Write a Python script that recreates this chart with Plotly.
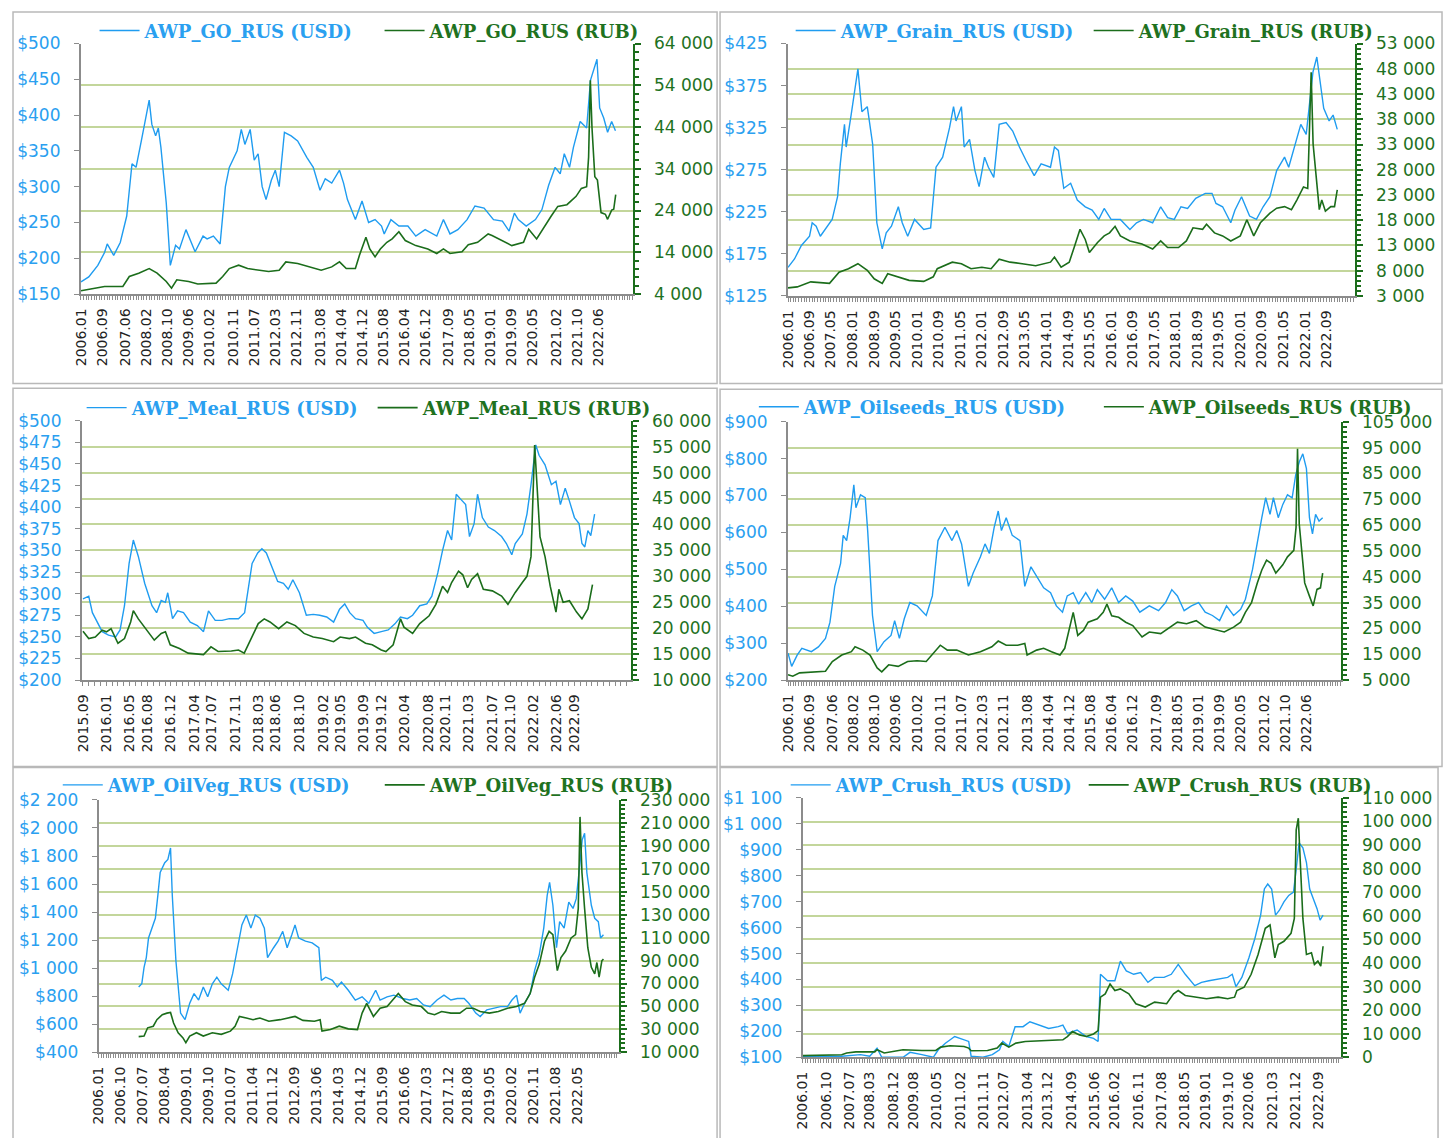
import plotly.graph_objects as go

W, H = 1453, 1146
# the page body keeps its default 8px margin, so the figure is drawn 8px in from the window edge
OFF = 8
FW, FH = W - 2 * OFF, H - 2 * OFF

BLUE = "#1f9cf0"
BLUE_TXT = "#2aa0f0"
GREEN = "#1b6d1b"
GREEN_TXT = "#1f721f"
GRID = "#c3d69b"
AXIS_GRAY = "#8c8c8c"
FRAME = "#b9b9b9"
TICK_FONT = "DejaVu Sans"
LEGEND_FONT = "DejaVu Serif"

# ---------------- AWP_GO_RUS ----------------
go_usd_dates = ["2006-01-01", "2006-04-01", "2006-07-15", "2006-10-01", "2006-11-01", "2007-01-15", "2007-04-01", "2007-06-15", "2007-08-15", "2007-10-01",
                "2007-12-01", "2008-01-15", "2008-03-01", "2008-04-01", "2008-05-15", "2008-06-15", "2008-07-15", "2008-09-15", "2008-11-01", "2009-01-01",
                "2009-02-15", "2009-05-01", "2009-07-01", "2009-08-15", "2009-11-15", "2010-01-01", "2010-03-15", "2010-06-01", "2010-08-01", "2010-09-15",
                "2010-12-15", "2011-02-01", "2011-03-15", "2011-05-15", "2011-07-01", "2011-08-15", "2011-10-01", "2011-11-15", "2012-01-15", "2012-03-01",
                "2012-04-15", "2012-06-15", "2012-09-01", "2012-11-15", "2013-03-01", "2013-05-15", "2013-08-01", "2013-10-01", "2013-12-15", "2014-03-15",
                "2014-05-01", "2014-06-15", "2014-09-15", "2014-12-01", "2015-02-15", "2015-05-01", "2015-07-15", "2015-08-15", "2015-11-01", "2016-02-01",
                "2016-05-15", "2016-08-15", "2016-12-01", "2017-04-15", "2017-07-01", "2017-09-15", "2017-12-15", "2018-04-01", "2018-07-01", "2018-10-15",
                "2019-02-01", "2019-05-15", "2019-08-01", "2019-10-01", "2019-11-15", "2020-02-15", "2020-06-01", "2020-08-15", "2020-11-01", "2021-01-15",
                "2021-03-15", "2021-05-01", "2021-07-01", "2021-08-15", "2021-11-01", "2022-01-15", "2022-03-01", "2022-04-15", "2022-05-15", "2022-06-15",
                "2022-08-01", "2022-09-15", "2022-11-01", "2022-12-15"]
go_usd = [167, 174, 190, 208, 220, 204, 222, 259, 332, 327,
          364, 391, 421, 387, 371, 382, 355, 277, 190, 218,
          213, 240, 222, 209, 231, 227, 231, 220, 300, 327,
          350, 380, 359, 380, 337, 346, 300, 282, 309, 323,
          300, 376, 371, 364, 341, 327, 295, 311, 305, 323,
          305, 282, 254, 280, 250, 254, 245, 234, 254, 245,
          245, 231, 240, 231, 254, 234, 240, 254, 273, 270,
          254, 252, 238, 263, 254, 245, 254, 268, 302, 327,
          318, 346, 327, 355, 391, 382, 449, 465, 478, 410,
          396, 376, 391, 378]
go_rub_dates = ["2006-01-01", "2006-05-01", "2006-10-01", "2007-05-01", "2007-07-15", "2007-11-01", "2008-01-15", "2008-03-01", "2008-06-01", "2008-09-15",
                "2008-11-15", "2009-01-15", "2009-06-01", "2009-09-15", "2010-04-15", "2010-07-01", "2010-09-15", "2011-01-01", "2011-04-15", "2011-09-01",
                "2011-12-15", "2012-04-15", "2012-07-01", "2012-11-15", "2013-04-01", "2013-08-15", "2013-12-15", "2014-03-15", "2014-06-01", "2014-09-15",
                "2014-11-01", "2015-01-15", "2015-03-01", "2015-05-01", "2015-07-01", "2015-09-15", "2015-11-15", "2016-02-01", "2016-04-15", "2016-08-15",
                "2017-01-01", "2017-04-15", "2017-07-01", "2017-09-15", "2018-02-01", "2018-04-15", "2018-08-01", "2018-12-01", "2019-01-15", "2019-05-01",
                "2019-09-01", "2020-01-15", "2020-03-15", "2020-06-15", "2020-09-15", "2020-12-01", "2021-02-15", "2021-06-01", "2021-09-15", "2021-11-15",
                "2022-01-15", "2022-02-07", "2022-02-27", "2022-03-18", "2022-04-20", "2022-05-20", "2022-07-01", "2022-08-20", "2022-09-15", "2022-11-01",
                "2022-11-25", "2022-12-18"]
go_rub = [4800, 5300, 5800, 5800, 8200, 9000, 9800, 10100, 9000, 7000,
          5400, 7400, 7000, 6400, 6600, 8200, 10100, 10900, 10100, 9700,
          9400, 9700, 11700, 11300, 10500, 9700, 10500, 11700, 10100, 10100,
          13300, 17600, 14800, 12900, 14800, 16400, 17200, 18900, 16800, 15600,
          14800, 13700, 14800, 13700, 14100, 15800, 16400, 18400, 18000, 16800,
          15600, 16400, 19500, 17200, 20300, 22700, 25000, 25400, 27400, 29300,
          29700, 36800, 55200, 43900, 32100, 31300, 23500, 23100, 21900, 24100,
          24300, 27800]
go_ticks = ["2006.01", "2006.09", "2007.06", "2008.02", "2008.10", "2009.06", "2010.02", "2010.11", "2011.07", "2012.03", "2012.11", "2013.08", "2014.04",
            "2014.12", "2015.08", "2016.04", "2016.12", "2017.09", "2018.05", "2019.01", "2019.09", "2020.05", "2021.02", "2021.10", "2022.06"]

# ---------------- AWP_Grain_RUS ----------------
grain_usd_dates = ["2006-01-01", "2006-03-15", "2006-06-01", "2006-09-01", "2006-10-01", "2006-11-15", "2007-01-01", "2007-04-01", "2007-05-15", "2007-07-15",
                   "2007-08-15", "2007-10-01", "2007-10-20", "2007-12-15", "2008-02-01", "2008-03-01", "2008-04-15", "2008-06-15", "2008-08-15", "2008-10-01",
                   "2008-12-01", "2009-01-15", "2009-03-15", "2009-06-01", "2009-07-15", "2009-09-15", "2009-12-01", "2010-03-15", "2010-06-01", "2010-07-01",
                   "2010-08-01", "2010-10-15", "2011-01-01", "2011-02-15", "2011-03-15", "2011-05-15", "2011-06-15", "2011-08-15", "2011-10-15", "2011-12-01",
                   "2012-02-01", "2012-03-15", "2012-05-15", "2012-07-15", "2012-10-01", "2012-12-15", "2013-03-01", "2013-05-15", "2013-08-15", "2013-11-01",
                   "2014-02-15", "2014-04-01", "2014-05-15", "2014-07-15", "2014-10-01", "2014-12-15", "2015-03-15", "2015-06-01", "2015-08-15", "2015-10-15",
                   "2016-01-01", "2016-04-15", "2016-08-01", "2016-10-15", "2017-01-01", "2017-04-15", "2017-07-15", "2017-10-01", "2017-12-15", "2018-03-01",
                   "2018-05-15", "2018-08-15", "2018-12-01", "2019-02-15", "2019-04-01", "2019-06-15", "2019-09-15", "2019-11-01", "2020-01-15", "2020-04-15",
                   "2020-07-01", "2020-09-15", "2020-12-01", "2021-02-15", "2021-05-15", "2021-07-01", "2021-09-01", "2021-11-15", "2022-01-15", "2022-02-27",
                   "2022-04-01", "2022-05-15", "2022-07-01", "2022-08-01", "2022-10-01", "2022-11-15", "2023-01-01"]
grain_usd = [159, 169, 185, 196, 212, 208, 196, 210, 216, 243,
             282, 329, 302, 340, 376, 395, 344, 350, 305, 212,
             181, 200, 208, 231, 212, 196, 216, 204, 206, 239,
             278, 290, 325, 350, 333, 350, 302, 311, 274, 255,
             290, 278, 266, 329, 331, 321, 302, 286, 268, 282,
             278, 302, 298, 253, 259, 239, 231, 227, 216, 229,
             216, 216, 204, 212, 216, 212, 231, 218, 216, 231,
             229, 241, 247, 247, 235, 231, 212, 227, 243, 220,
             216, 231, 243, 274, 290, 278, 302, 329, 317, 356,
             391, 409, 368, 348, 333, 340, 323]
grain_rub_dates = ["2006-01-01", "2006-04-15", "2006-09-15", "2007-04-15", "2007-08-01", "2007-11-15", "2008-03-01", "2008-06-15", "2008-09-01", "2008-12-01",
                   "2009-02-01", "2009-06-01", "2009-10-01", "2010-03-15", "2010-07-01", "2010-08-15", "2011-02-01", "2011-05-15", "2011-09-01", "2012-01-01",
                   "2012-04-15", "2012-07-15", "2012-11-15", "2013-04-01", "2013-09-01", "2014-02-15", "2014-04-01", "2014-06-15", "2014-09-15", "2014-11-15",
                   "2015-01-15", "2015-03-15", "2015-05-01", "2015-08-01", "2015-10-15", "2015-12-15", "2016-02-15", "2016-04-15", "2016-08-01", "2016-12-15",
                   "2017-04-15", "2017-07-15", "2017-10-01", "2018-02-01", "2018-05-01", "2018-07-15", "2018-11-01", "2018-12-15", "2019-03-15", "2019-06-15",
                   "2019-09-15", "2020-01-01", "2020-03-15", "2020-06-01", "2020-08-15", "2020-12-01", "2021-02-15", "2021-05-15", "2021-08-01", "2021-10-01",
                   "2021-12-15", "2022-02-01", "2022-02-27", "2022-03-12", "2022-04-03", "2022-05-06", "2022-06-12", "2022-07-10", "2022-08-20", "2022-10-20",
                   "2022-12-01", "2023-01-01"]
grain_rub = [4600, 4800, 5800, 5500, 7700, 8400, 9400, 8100, 6400, 5500,
             7400, 6800, 6100, 5900, 6800, 8400, 9700, 9400, 8400, 8700,
             8400, 10300, 9700, 9400, 9000, 9700, 10700, 8700, 9700, 12900,
             16200, 14200, 11600, 13600, 14900, 15500, 16800, 14900, 13900, 13300,
             12300, 13900, 12600, 12600, 13900, 16500, 16200, 17200, 15500, 14900,
             13900, 14900, 18100, 14900, 17500, 19400, 20400, 20700, 20100, 22000,
             24600, 24300, 40200, 47300, 33100, 27200, 20100, 22000, 19800, 20700,
             20700, 24000]
grain_ticks = ["2006.01", "2006.09", "2007.05", "2008.01", "2008.09", "2009.05", "2010.01", "2010.09", "2011.05", "2012.01", "2012.09", "2013.05", "2014.01",
               "2014.09", "2015.05", "2016.01", "2016.09", "2017.05", "2018.01", "2018.09", "2019.05", "2020.01", "2020.09", "2021.05", "2022.01", "2022.09"]

# ---------------- AWP_Meal_RUS ----------------
meal_usd_dates = ["2015-09-01", "2015-10-01", "2015-10-20", "2015-11-15", "2015-12-10", "2016-01-12", "2016-02-18", "2016-03-12", "2016-04-04", "2016-04-28",
                  "2016-05-20", "2016-06-15", "2016-07-18", "2016-08-25", "2016-09-18", "2016-10-12", "2016-11-03", "2016-11-15", "2016-12-10", "2017-01-05",
                  "2017-02-05", "2017-03-12", "2017-04-18", "2017-05-20", "2017-06-15", "2017-07-20", "2017-08-25", "2017-10-01", "2017-11-18", "2017-12-20",
                  "2018-01-28", "2018-02-26", "2018-03-20", "2018-04-12", "2018-05-12", "2018-06-10", "2018-07-10", "2018-08-04", "2018-08-28", "2018-10-01",
                  "2018-11-06", "2018-12-12", "2019-01-15", "2019-02-20", "2019-03-28", "2019-04-28", "2019-05-25", "2019-06-20", "2019-07-20", "2019-08-28",
                  "2019-09-20", "2019-10-25", "2019-12-01", "2020-01-06", "2020-02-10", "2020-03-10", "2020-04-15", "2020-05-12", "2020-06-18", "2020-07-25",
                  "2020-08-20", "2020-09-20", "2020-10-15", "2020-11-10", "2020-12-01", "2020-12-25", "2021-01-18", "2021-02-12", "2021-03-04", "2021-03-28",
                  "2021-04-15", "2021-05-10", "2021-06-10", "2021-07-12", "2021-08-18", "2021-09-12", "2021-10-10", "2021-10-28", "2021-12-04", "2021-12-28",
                  "2022-01-18", "2022-02-12", "2022-03-01", "2022-04-01", "2022-05-04", "2022-05-28", "2022-06-20", "2022-07-15", "2022-08-06", "2022-09-01",
                  "2022-09-25", "2022-10-10", "2022-10-25", "2022-11-10", "2022-11-25", "2022-12-15"]
meal_usd = [294, 297, 278, 267, 256, 252, 250, 258, 286, 335,
            362, 343, 312, 286, 278, 292, 290, 301, 271, 280,
            278, 267, 263, 256, 280, 269, 269, 271, 271, 278,
            335, 347, 352, 347, 331, 314, 312, 305, 316, 301,
            275, 276, 275, 273, 267, 282, 288, 278, 271, 269,
            261, 254, 256, 258, 265, 273, 271, 275, 286, 288,
            297, 324, 350, 373, 362, 415, 409, 403, 366, 381,
            415, 388, 377, 373, 366, 358, 345, 358, 369, 392,
            426, 472, 460, 449, 426, 430, 403, 422, 407, 388,
            381, 358, 354, 373, 367, 392]
meal_rub_dates = ["2015-09-01", "2015-10-01", "2015-11-04", "2015-12-10", "2016-01-01", "2016-01-25", "2016-03-01", "2016-04-04", "2016-05-06", "2016-05-20",
                  "2016-06-15", "2016-08-01", "2016-09-06", "2016-10-12", "2016-11-03", "2016-11-28", "2017-01-15", "2017-03-01", "2017-04-18", "2017-05-20",
                  "2017-06-28", "2017-08-04", "2017-10-12", "2017-11-18", "2017-12-18", "2018-01-28", "2018-03-01", "2018-04-01", "2018-05-01", "2018-06-15",
                  "2018-07-28", "2018-09-10", "2018-10-25", "2018-12-12", "2019-01-28", "2019-03-28", "2019-05-01", "2019-06-18", "2019-07-20", "2019-09-10",
                  "2019-10-15", "2019-12-01", "2019-12-25", "2020-02-01", "2020-02-20", "2020-03-10", "2020-03-28", "2020-05-12", "2020-06-18", "2020-08-06",
                  "2020-09-10", "2020-10-15", "2020-11-10", "2020-12-01", "2021-01-06", "2021-01-28", "2021-02-22", "2021-03-15", "2021-04-15", "2021-05-15",
                  "2021-07-01", "2021-08-18", "2021-09-20", "2021-10-28", "2021-12-04", "2021-12-28", "2022-01-18", "2022-02-06", "2022-02-18", "2022-03-06",
                  "2022-04-01", "2022-04-28", "2022-05-28", "2022-06-12", "2022-07-04", "2022-08-06", "2022-09-12", "2022-10-10", "2022-11-10", "2022-12-04"]
meal_rub = [19400, 18000, 18300, 19600, 19300, 19900, 17100, 18000, 21200, 23400,
            21800, 19600, 17700, 19000, 19300, 16800, 16100, 15200, 15000, 14900,
            16400, 15500, 15600, 15800, 15200, 18600, 20900, 21800, 21200, 19900,
            21200, 20500, 19000, 18300, 18000, 17400, 18300, 18000, 18300, 17100,
            16800, 15800, 15500, 16800, 19300, 21800, 20200, 19000, 20900, 22400,
            24600, 28100, 26900, 28800, 31000, 30300, 27800, 29400, 30500, 27500,
            27200, 26200, 24600, 26900, 28800, 30000, 33800, 55300, 47700, 37600,
            33800, 28100, 23100, 27500, 25000, 25300, 23100, 21800, 23700, 28400]
meal_ticks = ["2015.09", "2016.01", "2016.05", "2016.08", "2016.12", "2017.04", "2017.07", "2017.11", "2018.03", "2018.06", "2018.10", "2019.02",
              "2019.05", "2019.09", "2019.12", "2020.04", "2020.08", "2020.11", "2021.03", "2021.07", "2021.10", "2022.02", "2022.06", "2022.09"]

# ---------------- AWP_Oilseeds_RUS ----------------
oilseeds_usd_dates = ["2006-01-01", "2006-02-12", "2006-04-18", "2006-06-10", "2006-09-28", "2006-12-18", "2007-03-10", "2007-05-01", "2007-06-25", "2007-09-01",
                      "2007-10-01", "2007-11-10", "2007-12-20", "2008-02-01", "2008-02-25", "2008-04-18", "2008-06-12", "2008-07-10", "2008-09-04", "2008-10-28",
                      "2009-01-15", "2009-04-06", "2009-05-18", "2009-07-12", "2009-09-06", "2009-11-10", "2010-02-01", "2010-05-18", "2010-07-28", "2010-10-01",
                      "2010-12-20", "2011-03-12", "2011-05-06", "2011-07-01", "2011-09-18", "2011-11-12", "2012-02-04", "2012-03-28", "2012-05-18", "2012-07-12",
                      "2012-08-28", "2012-10-04", "2012-11-28", "2013-02-06", "2013-05-06", "2013-07-01", "2013-09-10", "2013-11-15", "2014-02-04", "2014-04-25",
                      "2014-07-01", "2014-09-10", "2014-11-04", "2015-01-12", "2015-03-15", "2015-06-06", "2015-08-15", "2015-10-18", "2016-01-10", "2016-04-01",
                      "2016-06-20", "2016-09-10", "2016-12-01", "2017-02-20", "2017-06-10", "2017-09-25", "2017-12-15", "2018-02-25", "2018-05-01", "2018-07-18",
                      "2018-10-10", "2019-01-01", "2019-03-18", "2019-06-10", "2019-09-01", "2019-11-20", "2020-02-10", "2020-05-01", "2020-06-25", "2020-09-15",
                      "2020-11-10", "2021-01-01", "2021-02-15", "2021-04-06", "2021-05-15", "2021-07-10", "2021-09-01", "2021-10-25", "2021-12-18", "2022-01-28",
                      "2022-03-10", "2022-04-20", "2022-06-01", "2022-07-06", "2022-08-10", "2022-09-15", "2022-10-25", "2022-12-06"]
oilseeds_usd = [273, 237, 268, 286, 277, 290, 313, 357, 454, 516,
                592, 578, 640, 729, 667, 702, 694, 605, 375, 277,
                304, 321, 361, 313, 366, 410, 401, 375, 428, 578,
                614, 578, 605, 569, 454, 490, 534, 569, 543, 614,
                658, 605, 640, 592, 578, 454, 507, 481, 450, 437,
                401, 384, 428, 437, 406, 437, 410, 445, 419, 450,
                410, 428, 414, 384, 401, 388, 410, 445, 428, 388,
                401, 410, 384, 375, 361, 401, 375, 392, 419, 499,
                578, 640, 694, 649, 694, 640, 676, 702, 694, 756,
                791, 813, 773, 640, 596, 649, 631, 640]
oilseeds_rub_dates = ["2006-01-01", "2006-02-25", "2006-05-15", "2007-03-10", "2007-05-28", "2007-09-15", "2008-01-04", "2008-02-15", "2008-05-15", "2008-08-06",
                      "2008-10-28", "2008-12-20", "2009-03-10", "2009-06-28", "2009-10-15", "2010-02-01", "2010-05-18", "2010-08-10", "2010-10-28", "2011-01-18",
                      "2011-05-06", "2011-09-18", "2012-02-04", "2012-06-15", "2012-08-28", "2012-11-28", "2013-04-10", "2013-07-01", "2013-07-28", "2013-11-15",
                      "2014-02-04", "2014-05-06", "2014-08-12", "2014-10-06", "2014-12-10", "2015-01-12", "2015-03-06", "2015-05-10", "2015-07-04", "2015-10-18",
                      "2015-12-25", "2016-02-06", "2016-04-01", "2016-06-20", "2016-09-10", "2016-12-01", "2017-03-18", "2017-06-10", "2017-10-20", "2018-02-10",
                      "2018-05-01", "2018-08-15", "2018-12-04", "2019-03-18", "2019-08-04", "2019-10-25", "2020-02-10", "2020-05-01", "2020-06-25", "2020-09-04",
                      "2020-11-10", "2021-01-01", "2021-02-25", "2021-04-18", "2021-06-12", "2021-09-01", "2021-10-25", "2022-01-06", "2022-02-01", "2022-02-18",
                      "2022-03-10", "2022-04-06", "2022-05-12", "2022-07-06", "2022-08-18", "2022-10-01", "2022-11-10", "2022-12-06"]
oilseeds_rub = [7100, 6500, 7800, 8400, 12200, 14700, 16000, 17900, 16600, 14700,
                9700, 8200, 10900, 10300, 12200, 12500, 12200, 15400, 18500, 16600,
                16600, 14700, 16000, 17900, 20100, 18500, 18500, 19200, 14700, 16600,
                17300, 16000, 14700, 17300, 26100, 31200, 22300, 24200, 27400, 28700,
                31200, 34400, 29900, 29300, 27400, 26100, 21700, 23600, 23000, 25500,
                27400, 26800, 28000, 25500, 24200, 23600, 25500, 27400, 31200, 35000,
                42600, 47600, 51400, 50200, 46400, 49600, 52700, 55200, 64100, 94500,
                65400, 55200, 42600, 37500, 33700, 40100, 40700, 46400]
oilseeds_ticks = go_ticks

# ---------------- AWP_OilVeg_RUS ----------------
oilveg_usd_dates = ["2007-05-12", "2007-06-20", "2007-07-18", "2007-08-15", "2007-09-12", "2007-10-28", "2007-12-06", "2008-01-06", "2008-02-04", "2008-04-01",
                    "2008-05-10", "2008-06-12", "2008-07-04", "2008-08-18", "2008-10-15", "2008-12-10", "2009-02-06", "2009-04-01", "2009-05-28", "2009-07-25",
                    "2009-09-18", "2009-11-15", "2010-01-10", "2010-03-06", "2010-06-01", "2010-07-25", "2010-09-20", "2010-11-18", "2011-01-12", "2011-03-10",
                    "2011-05-04", "2011-07-01", "2011-08-25", "2011-10-04", "2011-12-18", "2012-02-12", "2012-04-10", "2012-06-04", "2012-08-01", "2012-09-10",
                    "2012-10-25", "2013-01-18", "2013-04-12", "2013-07-04", "2013-08-04", "2013-09-28", "2013-12-20", "2014-02-18", "2014-04-12", "2014-07-06",
                    "2014-10-01", "2014-12-25", "2015-03-18", "2015-06-12", "2015-08-06", "2015-11-01", "2016-01-25", "2016-05-15", "2016-08-10", "2016-11-04",
                    "2017-01-28", "2017-04-20", "2017-07-15", "2017-10-10", "2018-01-04", "2018-03-25", "2018-06-18", "2018-08-15", "2018-11-10", "2019-01-04",
                    "2019-03-28", "2019-06-20", "2019-09-15", "2019-12-10", "2020-02-04", "2020-04-01", "2020-05-15", "2020-07-20", "2020-09-18", "2020-11-12",
                    "2021-01-10", "2021-03-06", "2021-04-18", "2021-05-18", "2021-06-28", "2021-08-12", "2021-09-20", "2021-11-15", "2022-01-12", "2022-03-06",
                    "2022-04-15", "2022-06-01", "2022-06-28", "2022-07-28", "2022-08-25", "2022-10-20", "2022-12-01", "2023-01-15", "2023-02-12", "2023-03-20"]
oilveg_usd = [866, 889, 1006, 1076, 1216, 1286, 1356, 1519, 1682, 1752,
              1776, 1857, 1519, 1053, 680, 633, 750, 819, 773, 866,
              796, 889, 936, 889, 843, 959, 1123, 1309, 1379, 1286,
              1379, 1356, 1286, 1076, 1146, 1193, 1263, 1146, 1239, 1309,
              1216, 1193, 1181, 1146, 913, 936, 913, 866, 901, 843,
              773, 796, 750, 843, 773, 796, 808, 784, 773, 784,
              738, 726, 773, 808, 773, 784, 784, 750, 680, 656,
              703, 715, 726, 726, 773, 808, 680, 761, 819, 983,
              1099, 1286, 1519, 1612, 1449, 1146, 1332, 1286, 1472, 1426,
              1496, 1752, 1915, 1962, 1682, 1449, 1356, 1332, 1216, 1239]
oilveg_rub_dates = ["2007-05-12", "2007-07-18", "2007-09-01", "2007-11-10", "2007-12-25", "2008-03-01", "2008-04-28", "2008-06-12", "2008-07-20", "2008-09-15",
                    "2008-11-12", "2008-12-20", "2009-02-06", "2009-05-01", "2009-07-25", "2009-11-15", "2010-03-06", "2010-06-28", "2010-08-25", "2010-10-18",
                    "2011-01-12", "2011-04-06", "2011-07-01", "2011-10-20", "2012-03-10", "2012-07-04", "2012-09-10", "2012-12-18", "2013-05-10", "2013-07-20",
                    "2013-08-12", "2013-11-25", "2014-03-15", "2014-07-06", "2014-10-28", "2014-12-25", "2015-02-20", "2015-05-15", "2015-08-06", "2015-11-01",
                    "2016-01-25", "2016-03-20", "2016-06-15", "2016-09-10", "2017-01-01", "2017-03-25", "2017-06-15", "2017-09-10", "2018-01-04", "2018-04-25",
                    "2018-07-18", "2018-10-10", "2019-01-04", "2019-04-28", "2019-08-18", "2019-12-10", "2020-04-01", "2020-07-10", "2020-09-18", "2020-11-12",
                    "2021-01-10", "2021-03-15", "2021-05-12", "2021-06-28", "2021-08-22", "2021-10-06", "2021-12-04", "2022-02-10", "2022-04-06", "2022-05-10",
                    "2022-06-01", "2022-06-25", "2022-07-28", "2022-09-06", "2022-10-20", "2022-12-01", "2022-12-28", "2023-01-25", "2023-02-28", "2023-03-20"]
oilveg_rub = [23700, 24200, 31400, 32800, 38500, 42800, 44200, 44800, 35600, 27100,
              22800, 18500, 24200, 27100, 24200, 27100, 25700, 28500, 32800, 41300,
              39900, 38500, 39900, 37100, 38500, 39900, 41300, 37900, 37100, 38500,
              28500, 29900, 32800, 30500, 29900, 44200, 52700, 41300, 48500, 49900,
              57000, 61300, 54200, 51300, 49900, 44200, 42800, 45600, 44200, 44200,
              48500, 48500, 45600, 44200, 45600, 48500, 49900, 52700, 61300, 75500,
              86900, 106800, 115400, 112600, 81200, 92600, 98300, 109700, 112600, 135400,
              215200, 166700, 135400, 101200, 84100, 78400, 88300, 75500, 89800, 91200]
oilveg_ticks = ["2006.01", "2006.10", "2007.07", "2008.04", "2009.01", "2009.10", "2010.07", "2011.04", "2011.12", "2012.09", "2013.06", "2014.03",
                "2014.12", "2015.09", "2016.06", "2017.03", "2017.12", "2018.08", "2019.05", "2020.02", "2020.11", "2021.08", "2022.05"]

# ---------------- AWP_Crush_RUS ----------------
crush_usd_dates = ["2006-01-01", "2007-04-04", "2007-11-12", "2008-02-28", "2008-05-25", "2008-07-20", "2009-03-28", "2009-06-18", "2009-11-06", "2010-03-20",
                   "2010-05-18", "2010-08-10", "2010-11-28", "2011-03-18", "2011-05-12", "2011-06-10", "2011-10-28", "2012-02-15", "2012-05-10", "2012-06-18",
                   "2012-08-28", "2012-11-10", "2013-02-12", "2013-05-04", "2013-08-25", "2013-12-12", "2014-04-04", "2014-05-28", "2014-07-20", "2014-11-12",
                   "2015-03-01", "2015-05-25", "2015-07-18", "2015-08-15", "2015-11-06", "2016-02-01", "2016-04-06", "2016-06-15", "2016-09-10", "2016-12-01",
                   "2017-02-25", "2017-05-15", "2017-09-04", "2017-11-28", "2018-02-18", "2018-05-12", "2018-09-01", "2018-11-20", "2019-02-15", "2019-06-04",
                   "2019-09-25", "2019-11-18", "2020-01-01", "2020-03-10", "2020-06-01", "2020-08-12", "2020-10-18", "2020-12-01", "2021-01-10", "2021-02-25",
                   "2021-04-12", "2021-05-28", "2021-07-20", "2021-09-15", "2021-11-10", "2021-12-12", "2022-01-15", "2022-03-01", "2022-04-12", "2022-05-20",
                   "2022-07-15", "2022-08-15", "2022-09-20", "2022-10-25"]
crush_usd = [104, 104, 110, 104, 135, 100, 100, 119, 110, 100,
             129, 154, 180, 167, 161, 104, 100, 110, 129, 161,
             142, 218, 218, 237, 224, 211, 218, 224, 192, 205,
             180, 173, 161, 420, 395, 395, 471, 433, 420, 427,
             389, 408, 408, 420, 458, 420, 376, 389, 395, 401,
             408, 420, 372, 408, 483, 559, 648, 749, 768, 749,
             648, 667, 699, 724, 737, 825, 927, 908, 851, 749,
             699, 673, 629, 648]
crush_rub_dates = ["2006-01-01", "2007-04-04", "2007-06-01", "2007-09-18", "2008-04-28", "2008-05-25", "2008-08-18", "2008-12-06", "2009-03-28", "2009-11-06",
                   "2010-04-18", "2010-06-15", "2010-10-04", "2011-03-18", "2011-05-12", "2011-06-10", "2011-12-20", "2012-04-12", "2012-06-06", "2012-08-28",
                   "2012-11-20", "2013-03-10", "2013-10-18", "2014-05-28", "2014-07-20", "2014-09-18", "2014-12-10", "2015-03-01", "2015-05-25", "2015-07-18",
                   "2015-08-15", "2015-10-10", "2015-12-06", "2016-02-01", "2016-04-06", "2016-07-15", "2016-10-06", "2017-01-25", "2017-05-15", "2017-10-04",
                   "2017-12-25", "2018-02-18", "2018-05-12", "2018-09-01", "2019-01-18", "2019-06-04", "2019-09-25", "2019-12-15", "2020-01-12", "2020-04-06",
                   "2020-06-28", "2020-09-18", "2020-12-12", "2021-02-06", "2021-03-04", "2021-04-04", "2021-05-15", "2021-07-20", "2021-10-12", "2021-11-20",
                   "2021-12-12", "2022-01-06", "2022-02-04", "2022-03-01", "2022-04-12", "2022-06-10", "2022-07-15", "2022-08-25", "2022-09-28", "2022-10-25"]
crush_rub = [700, 1100, 1800, 2300, 2300, 3200, 1800, 2500, 3200, 2900,
             2900, 4300, 4900, 4600, 3900, 2800, 2900, 3900, 6000, 4300,
             6000, 6700, 7000, 7400, 8800, 10900, 9500, 8800, 9900, 11300,
             25500, 26900, 31100, 28300, 29000, 26900, 22700, 21300, 23400, 22700,
             26900, 28300, 26200, 25500, 24800, 25500, 24800, 25500, 28300, 29700,
             35200, 43600, 54700, 56100, 50600, 42200, 47800, 49200, 52600, 58900,
             96500, 101400, 78400, 58900, 43600, 44300, 39400, 40800, 38700, 47100]
crush_ticks = ["2006.01", "2006.10", "2007.07", "2008.03", "2008.12", "2009.08", "2010.05", "2011.02", "2011.11", "2012.07", "2013.04", "2013.12",
               "2014.09", "2015.06", "2016.02", "2016.11", "2017.08", "2018.05", "2019.01", "2019.10", "2020.06", "2021.03", "2021.12", "2022.09"]


# layout of the six panels, in window pixels: plot-area box, legend anchor (x, y, entry width), frame
panels = [
    dict(name="GO", usd=(go_usd_dates, go_usd), rub=(go_rub_dates, go_rub), ticks=go_ticks,
         xrange=["2005-12-28", "2023-07-01"], usd_axis=(150, 500, 50), rub_axis=(4000, 64000, 10000),
         box=(73, 628, 34, 289), legend=(87, 21, 230), frame=(5, 713, 2, 380)),
    dict(name="Grain", usd=(grain_usd_dates, grain_usd), rub=(grain_rub_dates, grain_rub), ticks=grain_ticks,
         xrange=["2005-12-28", "2023-07-15"], usd_axis=(125, 425, 50), rub_axis=(3000, 53000, 5000),
         box=(784, 1354, 34, 291), legend=(787, 21, 243), frame=(716, 1442, 2, 380)),
    dict(name="Meal", usd=(meal_usd_dates, meal_usd), rub=(meal_rub_dates, meal_rub), ticks=meal_ticks,
         xrange=["2015-08-25", "2023-06-20"], usd_axis=(200, 500, 25), rub_axis=(10000, 60000, 5000),
         box=(74, 626, 418, 682), legend=(74, 405, 236), frame=(5, 713, 385, 770)),
    dict(name="Oilseeds", usd=(oilseeds_usd_dates, oilseeds_usd), rub=(oilseeds_rub_dates, oilseeds_rub), ticks=oilseeds_ticks,
         xrange=["2005-12-28", "2023-07-01"], usd_axis=(200, 900, 100), rub_axis=(5000, 105000, 10000),
         box=(784, 1340, 419, 682), legend=(750, 404, 290), frame=(716, 1442, 386, 770)),
    dict(name="OilVeg", usd=(oilveg_usd_dates, oilveg_usd), rub=(oilveg_rub_dates, oilveg_rub), ticks=oilveg_ticks,
         xrange=["2005-12-28", "2023-09-25"], usd_axis=(400, 2200, 200), rub_axis=(10000, 230000, 20000),
         box=(91, 614, 804, 1061), legend=(50, 789, 267), frame=(5, 713, 771, 1160)),
    dict(name="Crush", usd=(crush_usd_dates, crush_usd), rub=(crush_rub_dates, crush_rub), ticks=crush_ticks,
         xrange=["2005-12-28", "2023-05-20"], usd_axis=(100, 1100, 100), rub_axis=(0, 110000, 10000),
         box=(799, 1340, 802, 1066), legend=(782, 789, 243), frame=(716, 1438, 771, 1160)),
]


def px(x):
    return (x - OFF) / FW


def py(y):
    return 1 - (y - OFF) / FH


fig = go.Figure()
layout = dict(width=FW, height=FH, margin=dict(l=0, r=0, t=0, b=0, pad=0), autosize=False,
              paper_bgcolor="white", plot_bgcolor="white", separators=". ",
              showlegend=True, shapes=[])

for n, p in enumerate(panels, start=1):
    xs = "" if n == 1 else str(n)
    y_usd = "" if n == 1 else str(2 * n - 1)
    y_rub = str(2 * n)
    lg = "legend" if n == 1 else f"legend{n}"

    for key, color, txt, unit, yref in [("usd", BLUE, BLUE_TXT, "USD", y_usd), ("rub", GREEN, GREEN_TXT, "RUB", y_rub)]:
        dates, vals = p[key]
        assert len(dates) == len(vals), (p["name"], key)
        fig.add_trace(go.Scatter(x=dates, y=vals, mode="lines",
                                 name=f"<span style='color:{txt}'>AWP_{p['name']}_RUS ({unit})</span>",
                                 line=dict(color=color, width=1.4 if key == "usd" else 1.6),
                                 xaxis=f"x{xs}", yaxis=f"y{yref}", legend=lg))

    l, r, t, b = p["box"]
    layout[f"xaxis{xs}"] = dict(
        domain=[px(l), px(r)], anchor=f"y{y_usd}", type="date", range=p["xrange"],
        tickmode="array", tickvals=[s.replace(".", "-") + "-01" for s in p["ticks"]], ticktext=p["ticks"],
        tickangle=-90, tickfont=dict(family=TICK_FONT, size=14, color="#222222"), ticklabelstandoff=3,
        showline=True, linecolor=AXIS_GRAY, linewidth=1.5, ticks="outside", ticklen=4, tickcolor=AXIS_GRAY,
        minor=dict(ticks="outside", ticklen=4, tickcolor=AXIS_GRAY, dtick="M1", showgrid=False),
        showgrid=False, zeroline=False)

    lo, hi, dt = p["usd_axis"]
    layout[f"yaxis{y_usd}"] = dict(
        domain=[py(b), py(t)], anchor=f"x{xs}", range=[lo, hi], tick0=lo, dtick=dt,
        tickprefix="$", tickformat=",d", tickfont=dict(family=TICK_FONT, size=17, color=BLUE_TXT),
        showline=True, linecolor=AXIS_GRAY, linewidth=1.5, ticks="outside", ticklen=5, tickcolor=AXIS_GRAY,
        ticklabelstandoff=10, showgrid=False, zeroline=False)

    lo, hi, dt = p["rub_axis"]
    layout[f"yaxis{y_rub}"] = dict(
        overlaying=f"y{y_usd}", side="right", anchor=f"x{xs}", range=[lo, hi], tick0=lo, dtick=dt,
        tickformat=",d", tickfont=dict(family=TICK_FONT, size=17, color=GREEN_TXT),
        showline=True, linecolor=GREEN, linewidth=2, ticks="outside", ticklen=6, tickwidth=1.5, tickcolor=GREEN,
        minor=dict(ticks="outside", ticklen=4, tickcolor=GREEN, tick0=lo, dtick=dt / 5, showgrid=False),
        ticklabelstandoff=10, showgrid=True, gridcolor=GRID, gridwidth=1.5, zeroline=False)

    lx, ly, ew = p["legend"]
    layout[lg] = dict(x=px(lx), y=py(ly), xanchor="left", yanchor="middle", orientation="h",
                      entrywidth=ew, itemwidth=40, bgcolor="rgba(0,0,0,0)", traceorder="normal",
                      font=dict(family=LEGEND_FONT, size=18, weight="bold"))

    fx0, fx1, fy0, fy1 = p["frame"]
    layout["shapes"].append(dict(type="rect", xref="paper", yref="paper",
                                 x0=px(fx0), x1=px(fx1), y0=py(fy1), y1=py(fy0),
                                 line=dict(color=FRAME, width=1.5), layer="below"))

fig.update_layout(**layout)
fig.write_html("out.html", config={"displayModeBar": False})
